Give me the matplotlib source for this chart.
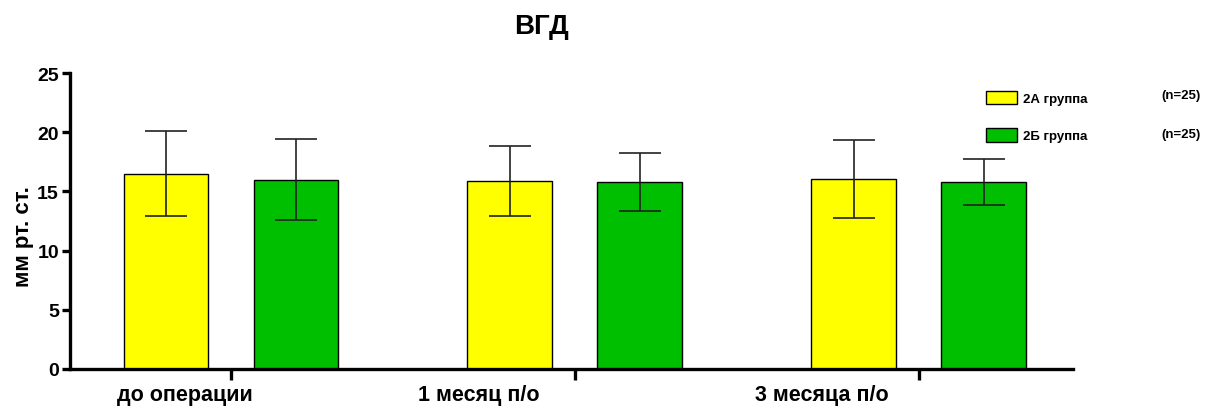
import numpy as np
import matplotlib
matplotlib.use('Agg')
import matplotlib.pyplot as plt
from matplotlib.patches import Patch

plt.rcParams['font.family'] = ['Liberation Sans', 'DejaVu Sans']
plt.rcParams['font.weight'] = 'bold'

# data
groups = ['до операции', '1 месяц п/о', '3 месяца п/о']
series_names = ['2А группа', '2Б группа']
series_n = ['(n=25)', '(n=25)']
means_a = [16.5, 15.9, 16.05]
errs_a = [3.6, 2.95, 3.3]
means_b = [16.0, 15.8, 15.8]
errs_b = [3.4, 2.45, 1.95]
colors = ['#FFFF00', '#00BE00']

fig = plt.figure(figsize=(12.16, 4.10), dpi=100)
ax = fig.add_axes([0.0576, 0.0976, 0.8248, 0.7219])

ind = np.arange(len(groups))
width = 0.247
offset = 0.189

ekw = dict(ecolor='#222222', elinewidth=1.2, capsize=15, capthick=1.2)
ax.bar(ind - offset, means_a, width, yerr=errs_a, color=colors[0],
       edgecolor='black', linewidth=1.0, error_kw=ekw, zorder=2)
ax.bar(ind + offset, means_b, width, yerr=errs_b, color=colors[1],
       edgecolor='black', linewidth=1.0, error_kw=ekw, zorder=2)

ax.set_xlim(-0.468, 2.448)
ax.set_ylim(0, 25)
ax.set_yticks([0, 5, 10, 15, 20, 25])
ax.set_xticks(ind)
ax.set_xticklabels([''] * len(groups))

# category labels sit left of the group ticks
label_shift = [-0.134, -0.28, -0.282]
for i, name in enumerate(groups):
	ax.text(ind[i] + label_shift[i], -0.05, name, transform=ax.get_xaxis_transform(),
	        ha='center', va='top', fontsize=15.5, fontweight='bold')

for side in ['top', 'right']:
	ax.spines[side].set_visible(False)
for side in ['left', 'bottom']:
	ax.spines[side].set_linewidth(2.4)
ax.tick_params(axis='y', direction='out', length=6, width=2.4, labelsize=14, pad=2)
ax.tick_params(axis='x', direction='out', length=8, width=2.4)
for lbl in ax.get_yticklabels():
	lbl.set_fontweight('bold')

ax.set_ylabel('мм рт. ст.', fontsize=16, fontweight='bold')
ax.yaxis.set_label_coords(-0.036, 0.45)

fig.text(0.445, 0.935, 'ВГД', ha='center', va='center', fontsize=20, fontweight='bold')

handles = [Patch(facecolor=c, edgecolor='black', linewidth=1.0) for c in colors]
leg = fig.legend(handles, series_names, loc='upper left', bbox_to_anchor=(0.8015, 0.805),
                 frameon=False, fontsize=9.5, handlelength=2.3, handleheight=1.2,
                 labelspacing=1.75, handletextpad=0.5)
for t in leg.get_texts():
	t.set_fontweight('bold')
for i, n in enumerate(series_n):
	fig.text(0.955, 0.765 - i * 0.095, n, ha='left', va='center', fontsize=9.5, fontweight='bold')

plt.savefig('out.png', dpi=100)
